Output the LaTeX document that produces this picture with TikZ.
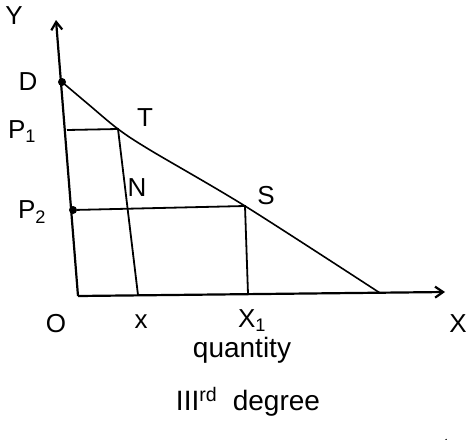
\documentclass[tikz,border=0pt]{standalone}
\usepackage{fontspec}
\setmainfont{Liberation Sans}
\usepackage{tikz}
\usetikzlibrary{arrows.meta, positioning, calc}

\begin{document}
\begin{tikzpicture}[
  x=1pt, y=-1pt,
  axis/.style={line width=2.2pt, -{Straight Barb[length=8pt, width=11pt]}},
  curve/.style={line width=1.6pt},
  lvl/.style={line width=1.8pt},
  pt/.style={circle, fill, inner sep=0pt, minimum size=8pt},
  lbl/.style={font=\fontsize{26}{30}\selectfont},
  captext/.style={font=\fontsize{28}{32}\selectfont},
]
\useasboundingbox (0,0) rectangle (470,439);

% axes
\coordinate (O)    at (78,296);
\coordinate (ytop) at (56,20);
\coordinate (xend) at (445,292);
\draw[axis] (O) -- (ytop);
\draw[axis] (O) -- (xend);

% points on the demand line
\node[pt] (D)  at (62,82)  {};
\node[pt] (P2) at (73,210) {};
\coordinate (P1) at (67,130);
\coordinate (T)  at (118,129);
\coordinate (S)  at (245,206);
\coordinate (E)  at (380,293);
\coordinate (x)  at (138,295);
\coordinate (X1) at (248,294);

\draw[curve] plot[smooth, tension=0.5] coordinates
  {(62,82) (88,104) (118,129) (150,150) (245,206) (380,293)};

% price levels
\draw[lvl] (P1) -- (T) -- (x);
\draw[lvl] (P2) -- (S) -- (X1);

% labels
\node[lbl] (ylab)  at (14,16)   {Y};
\node[lbl] (dlab)  at (28,82)   {D};
\node[lbl] (p1lab) at (22,132)  {P\textsubscript{1}};
\node[lbl] (p2lab) at (32,212)  {P\textsubscript{2}};
\node[lbl] (tlab)  at (145,118) {T};
\node[lbl] (nlab)  at (137,188) {N};
\node[lbl] (slab)  at (266,196) {S};
\node[lbl] (olab)  at (56,324)  {O};
\node[lbl] (xlab)  at (141,322) {x};
\node[lbl] (x1lab) at (252,321) {X\textsubscript{1}};
\node[lbl] (Xlab)  at (458,324) {X};
\node[captext] (qty) at (242,350) {quantity};
\node[captext] (deg) at (248,402) {III\textsuperscript{rd}\ \ degree};

\draw[line width=1.2pt] (446,439) arc (180:100:12);

\end{tikzpicture}
\end{document}
